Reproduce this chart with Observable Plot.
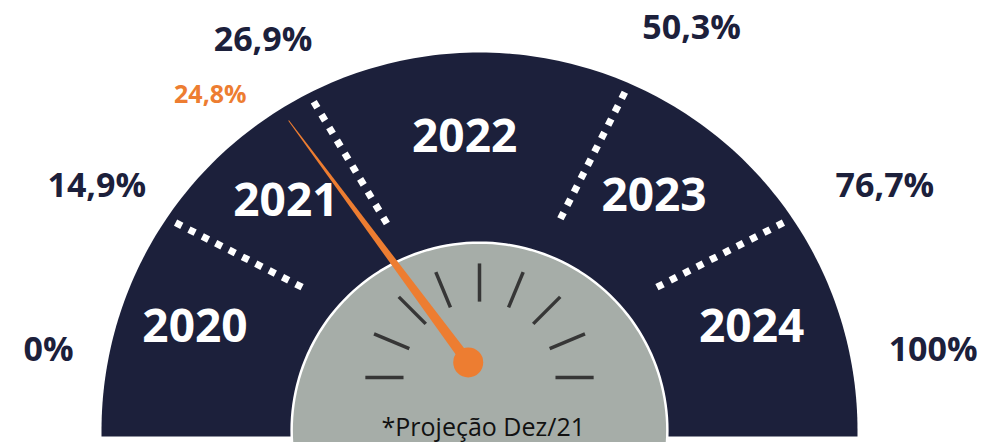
<!DOCTYPE html>
<html>
<head>
<meta charset="utf-8">
<script src="https://cdn.jsdelivr.net/npm/d3@7"></script>
<script src="https://cdn.jsdelivr.net/npm/@observablehq/plot@0.6"></script>
<style>
  html, body { margin: 0; padding: 0; background: #ffffff; }
  #chart { width: 982px; height: 442px; overflow: hidden; }
</style>
</head>
<body>
<div id="chart"></div>
<script>
// ---------------- data ----------------
const thresholds = [0, 14.9, 26.9, 50.3, 76.7, 100];
const thresholdLabels = ["0%", "14,9%", "26,9%", "50,3%", "76,7%", "100%"];
const years = ["2020", "2021", "2022", "2023", "2024"];
const projectionValue = 24.8;
const projectionLabel = "24,8%";
const caption = "*Projeção Dez/21";

// ---------------- styling ----------------
const NAVY = "#1c203b";
const GRAY = "#a6ada8";
const ORANGE = "#ed7d31";
const TICK = "#363636";
const FONT = "'Open Sans', 'DejaVu Sans', sans-serif";

// gauge scale: percent -> dial angle (degrees from the left end)
const angle = d3.scaleLinear().domain(thresholds).range([0, 27, 59, 117, 153, 180]);

// geometry in units of the outer radius; dial centre at (0,0)
const deg = Math.PI / 180;
const pt = (cx, cy, r, a) => ({x: cx - r * Math.cos(a * deg), y: cy + r * Math.sin(a * deg)});
const angleFromCentre = p => Math.atan2(p.y, -p.x) / deg;
const hub = {x: 0, y: 0.14};          // needle / tick pivot
const innerR = 0.497;                  // grey dial radius

// ray from hub at angle a hitting circle (centre 0,0) of radius R
const rayHit = (a, R) => {
  const s = Math.sin(a * deg);
  const g = hub.y;
  const t = -g * s + Math.sqrt(g * g * s * s - g * g + R * R);
  return pt(hub.x, hub.y, t, a);
};

// shapes
const outerShape = d3.range(0, 180.5, 1).map(a => pt(0, 0, 1, a))
  .concat([{x: 1, y: -0.016}, {x: -1, y: -0.016}]);
const innerShape = d3.range(0, 361, 2).map(a => pt(0, 0, innerR, a));

// dividers at interior thresholds
const dividers = thresholds.slice(1, -1).map(v => {
  const a = angle(v);
  const p1 = rayHit(a, 0.974), p2 = rayHit(a, 0.598);
  return {x1: p1.x, y1: p1.y, x2: p2.x, y2: p2.y, mid: {x: (p1.x + p2.x) / 2, y: (p1.y + p2.y) / 2}};
});

// percent labels around the dial
const pctLabels = thresholds.map((v, i) => {
  const a = angle(v);
  return {x: 0.03 - 1.17 * Math.cos(a * deg), y: 0.213 + 0.955 * Math.sin(a * deg), text: thresholdLabels[i]};
});

// year labels in the middle of each segment (as seen from the dial centre)
const bounds = [0, ...dividers.map(d => angleFromCentre(d.mid)), 180];
const yearLabels = years.map((yr, i) => {
  const a = (bounds[i] + bounds[i + 1]) / 2;
  return {x: -0.0164 - 0.7746 * Math.cos(a * deg), y: 0.046 + 0.7296 * Math.sin(a * deg), text: yr};
});

// dial ticks
const ticks = d3.range(0, 181, 22.5).map(a => {
  const p1 = pt(hub.x, hub.y, 0.201, a), p2 = pt(hub.x, hub.y, 0.302, a);
  return {x1: p1.x, y1: p1.y, x2: p2.x, y2: p2.y};
});

// needle
const na = angle(projectionValue);
const needleLen = 0.847;
const perp = a => ({x: Math.sin(a * deg), y: Math.cos(a * deg)});
const pp = perp(na);
const knobC = pt(hub.x, hub.y, 0.05, na);
const tip = pt(hub.x, hub.y, needleLen, na);
const hw = 0.0145, tw = 0.0012;
const needle = [
  {x: knobC.x + pp.x * hw, y: knobC.y + pp.y * hw},
  {x: tip.x + pp.x * tw, y: tip.y + pp.y * tw},
  {x: tip.x - pp.x * tw, y: tip.y - pp.y * tw},
  {x: knobC.x - pp.x * hw, y: knobC.y - pp.y * hw}
];

const chart = Plot.plot({
  width: 982,
  height: 442,
  margin: 0,
  x: {domain: [-1.2672, 1.3307], axis: null},
  y: {domain: [-0.0317, 1.1376], axis: null},
  style: {background: "#ffffff", fontFamily: FONT},
  marks: [
    Plot.line(outerShape, {x: "x", y: "y", fill: NAVY, stroke: "none", curve: "linear-closed"}),
    Plot.link(dividers, {x1: "x1", y1: "y1", x2: "x2", y2: "y2", stroke: "#ffffff", strokeWidth: 7, strokeDasharray: "7,8", strokeLinecap: "butt"}),
    Plot.text(yearLabels, {x: "x", y: "y", text: "text", fill: "#ffffff", fontSize: 46, fontWeight: "bold", fontFamily: FONT, lineAnchor: "middle"}),
    Plot.line(innerShape, {x: "x", y: "y", fill: GRAY, stroke: "#ffffff", strokeWidth: 2.5, curve: "linear-closed", clip: "frame"}),
    Plot.link(ticks, {x1: "x1", y1: "y1", x2: "x2", y2: "y2", stroke: TICK, strokeWidth: 3.5}),
    Plot.text([caption], {x: () => 0.01, y: () => 0.006, text: d => d, fill: "#111111", fontSize: 25, fontFamily: FONT, lineAnchor: "middle"}),
    Plot.line(needle, {x: "x", y: "y", fill: ORANGE, stroke: "none", curve: "linear-closed"}),
    Plot.dot([knobC], {x: "x", y: "y", r: 15, fill: ORANGE, stroke: "none"}),
    Plot.text(pctLabels, {x: "x", y: "y", text: "text", fill: NAVY, fontSize: 34, fontWeight: "bold", fontFamily: FONT, lineAnchor: "middle"}),
    Plot.text([tip], {x: "x", y: "y", text: () => projectionLabel, fill: ORANGE, fontSize: 25, fontWeight: "bold", fontFamily: FONT, textAnchor: "end", dx: -42, dy: -26, lineAnchor: "middle"})
  ]
});
document.getElementById("chart").appendChild(chart);
</script>
</body>
</html>
